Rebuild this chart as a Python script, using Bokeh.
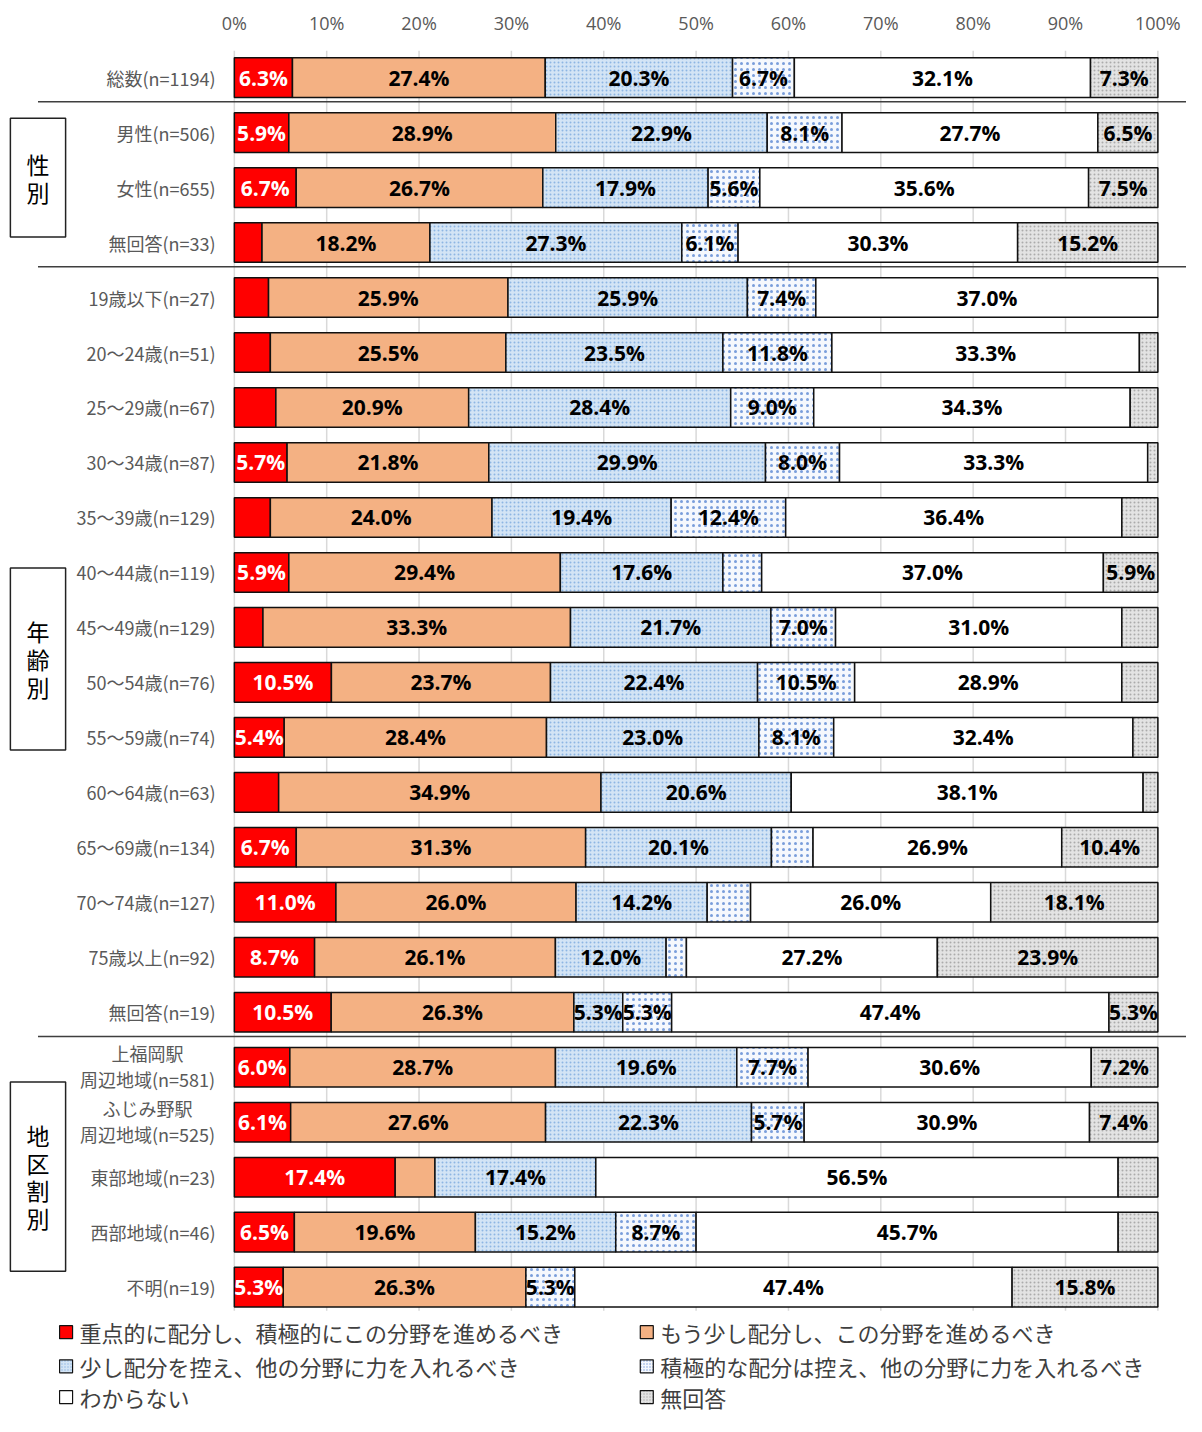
from bokeh.plotting import figure
from bokeh.models import Range1d, FixedTicker, CustomJSTickFormatter, ColumnDataSource
from bokeh.core.properties import value
from bokeh.embed import file_html
from bokeh.resources import INLINE

# ---------------- data ----------------
categories = ["総数(n=1194)", "男性(n=506)", "女性(n=655)", "無回答(n=33)",
              "19歳以下(n=27)", "20〜24歳(n=51)", "25〜29歳(n=67)", "30〜34歳(n=87)",
              "35〜39歳(n=129)", "40〜44歳(n=119)", "45〜49歳(n=129)", "50〜54歳(n=76)",
              "55〜59歳(n=74)", "60〜64歳(n=63)", "65〜69歳(n=134)", "70〜74歳(n=127)",
              "75歳以上(n=92)", "無回答(n=19)", "上福岡駅\n周辺地域(n=581)",
              "ふじみ野駅\n周辺地域(n=525)", "東部地域(n=23)", "西部地域(n=46)", "不明(n=19)"]

series_names = ["重点的に配分し、積極的にこの分野を進めるべき",
                "もう少し配分し、この分野を進めるべき",
                "少し配分を控え、他の分野に力を入れるべき",
                "積極的な配分は控え、他の分野に力を入れるべき",
                "わからない",
                "無回答"]

s1 = [6.3, 5.9, 6.7, 3.0, 3.7, 3.9, 4.5, 5.7, 3.9, 5.9, 3.1, 10.5, 5.4, 4.8, 6.7, 11.0, 8.7, 10.5, 6.0, 6.1, 17.4, 6.5, 5.3]
s2 = [27.4, 28.9, 26.7, 18.2, 25.9, 25.5, 20.9, 21.8, 24.0, 29.4, 33.3, 23.7, 28.4, 34.9, 31.3, 26.0, 26.1, 26.3, 28.7, 27.6, 4.3, 19.6, 26.3]
s3 = [20.3, 22.9, 17.9, 27.3, 25.9, 23.5, 28.4, 29.9, 19.4, 17.6, 21.7, 22.4, 23.0, 20.6, 20.1, 14.2, 12.0, 5.3, 19.6, 22.3, 17.4, 15.2, 0.0]
s4 = [6.7, 8.1, 5.6, 6.1, 7.4, 11.8, 9.0, 8.0, 12.4, 4.2, 7.0, 10.5, 8.1, 0.0, 4.5, 4.7, 2.2, 5.3, 7.7, 5.7, 0.0, 8.7, 5.3]
s5 = [32.1, 27.7, 35.6, 30.3, 37.0, 33.3, 34.3, 33.3, 36.4, 37.0, 31.0, 28.9, 32.4, 38.1, 26.9, 26.0, 27.2, 47.4, 30.6, 30.9, 56.5, 45.7, 47.4]
s6 = [7.3, 6.5, 7.5, 15.2, 0.0, 2.0, 3.0, 1.1, 3.9, 5.9, 3.9, 3.9, 2.7, 1.6, 10.4, 18.1, 23.9, 5.3, 7.2, 7.4, 4.3, 4.3, 15.8]

tick_values = [0, 10, 20, 30, 40, 50, 60, 70, 80, 90, 100]

group_names = ["性別", "年齢別", "地区割別"]
separator_after = [0, 3, 17]

# ---------------- styles / layout ----------------
colors = ["#FF0000", "#F4B183", "#D3E4F5", "#F5F8FD", "#FFFFFF", "#E3E3E3"]
hatches = [
    {},
    {},
    dict(hatch_pattern="dot", hatch_color="#8DB6E3", hatch_scale=4, hatch_weight=2),
    dict(hatch_pattern="dot", hatch_color="#7A9EDB", hatch_scale=6, hatch_weight=1.2),
    {},
    dict(hatch_pattern="dot", hatch_color="#ABABAB", hatch_scale=4, hatch_weight=1.5),
]
label_colors = ["white", "black", "black", "black", "black", "black"]
group_boxes = [(0.74, 2.90), (8.92, 12.23), (18.27, 21.71)]

JP = "Noto Sans CJK JP"
NUM = "Open Sans"

series = [s1, s2, s3, s4, s5, s6]
n = len(categories)
totals = [sum(col) for col in zip(*series)]

TOP = -0.4935
p = figure(width=1186, height=1416, output_backend="svg", toolbar_location=None,
           x_range=Range1d(-25.32, 103.1), y_range=Range1d(24.353, TOP),
           x_axis_location="above", y_axis_location=None,
           min_border_left=0, min_border_right=0, min_border_top=50, min_border_bottom=0)
p.outline_line_color = None
p.grid.visible = False
p.background_fill_color = "white"

ax = p.xaxis[0]
ax.ticker = FixedTicker(ticks=tick_values)
ax.formatter = CustomJSTickFormatter(code="return tick + '%';")
ax.axis_line_color = None
ax.major_tick_line_color = None
ax.minor_tick_line_color = None
ax.major_tick_out = 0
ax.major_tick_in = 0
ax.major_label_standoff = 16
ax.major_label_text_font = NUM
ax.major_label_text_font_size = "18px"
ax.major_label_text_color = "#595959"

# grid lines
p.segment(x0=tick_values, x1=tick_values, y0=[TOP] * len(tick_values),
          y1=[n - 0.57] * len(tick_values), line_color="#D9D9D9", line_width=1.5)

# separators
p.segment(x0=[-21.26] * len(separator_after), x1=[104] * len(separator_after),
          y0=[r + 0.44 for r in separator_after], y1=[r + 0.44 for r in separator_after],
          line_color="#3F3F3F", line_width=1.5)

# stacked bars (100% stacked)
lab_x, lab_y, lab_t, lab_c = [], [], [], []
for k, vals in enumerate(series):
    left, right, yy = [], [], []
    for i in range(n):
        start = sum(series[j][i] for j in range(k)) / totals[i] * 100
        end = start + vals[i] / totals[i] * 100
        if vals[i] > 0:
            left.append(start); right.append(end); yy.append(i)
        if vals[i] >= 5:
            lab_x.append((start + end) / 2); lab_y.append(i)
            lab_t.append(f"{vals[i]:.1f}%"); lab_c.append(label_colors[k])
    src = ColumnDataSource(dict(y=yy, left=left, right=right))
    p.hbar(y="y", left="left", right="right", height=0.72, source=src,
           fill_color=colors[k], line_color="#111111", line_width=1.5, **hatches[k])

p.text(x=lab_x, y=lab_y, text=lab_t, text_color=lab_c, text_font=value(NUM),
       text_font_style="bold", text_font_size="21px", text_align="center",
       text_baseline="middle")

# category labels
sx, sy, st = [], [], []
mx, my, mt = [], [], []
for i, c in enumerate(categories):
    if "\n" in c:
        a, b = c.split("\n")
        mx += [-9.4, -9.4]; my += [i - 0.25, i + 0.22]; mt += [a, b]
    else:
        sx.append(-2.03); sy.append(i); st.append(c)
p.text(x=sx, y=sy, text=st, text_color="#595959", text_font=value(JP),
       text_font_size="18px", text_align="right", text_baseline="middle")
p.text(x=mx, y=my, text=mt, text_color="#595959", text_font=value(JP),
       text_font_size="18px", text_align="center", text_baseline="middle")

# group boxes
p.quad(left=[-24.25] * 3, right=[-18.27] * 3, top=[b[0] for b in group_boxes],
       bottom=[b[1] for b in group_boxes], fill_color="white", line_color="#222222", line_width=1.5)
gx, gy, gt = [], [], []
for name, (t, b) in zip(group_names, group_boxes):
    mid = (t + b) / 2
    m = len(name)
    for j, ch in enumerate(name):
        gx.append(-21.26); gy.append(mid + (j - (m - 1) / 2) * 0.5036); gt.append(ch)
p.text(x=gx, y=gy, text=gt, text_color="black", text_font=value(JP),
       text_font_size="23px", text_align="center", text_baseline="middle")

# legend (manual, two columns)
leg_cols = [-18.22, 44.66]
leg_rows = [22.82, 23.44, 24.0]
lx = [leg_cols[k % 2] for k in range(len(series_names))]
ly = [leg_rows[k // 2] for k in range(len(series_names))]
for k in range(len(series_names)):
    p.rect(x=[lx[k]], y=[ly[k]], width=13, height=13, width_units="screen",
           height_units="screen", fill_color=colors[k], line_color="#111111",
           line_width=1.2, **{kk: (3 if kk == "hatch_scale" else vv) for kk, vv in hatches[k].items()})
p.text(x=[v + 1.45 for v in lx], y=ly, text=series_names, text_color="#404040",
       text_font=value(JP), text_font_size="22px", text_align="left", text_baseline="middle")

open("out.html", "w").write(file_html(p, INLINE))
